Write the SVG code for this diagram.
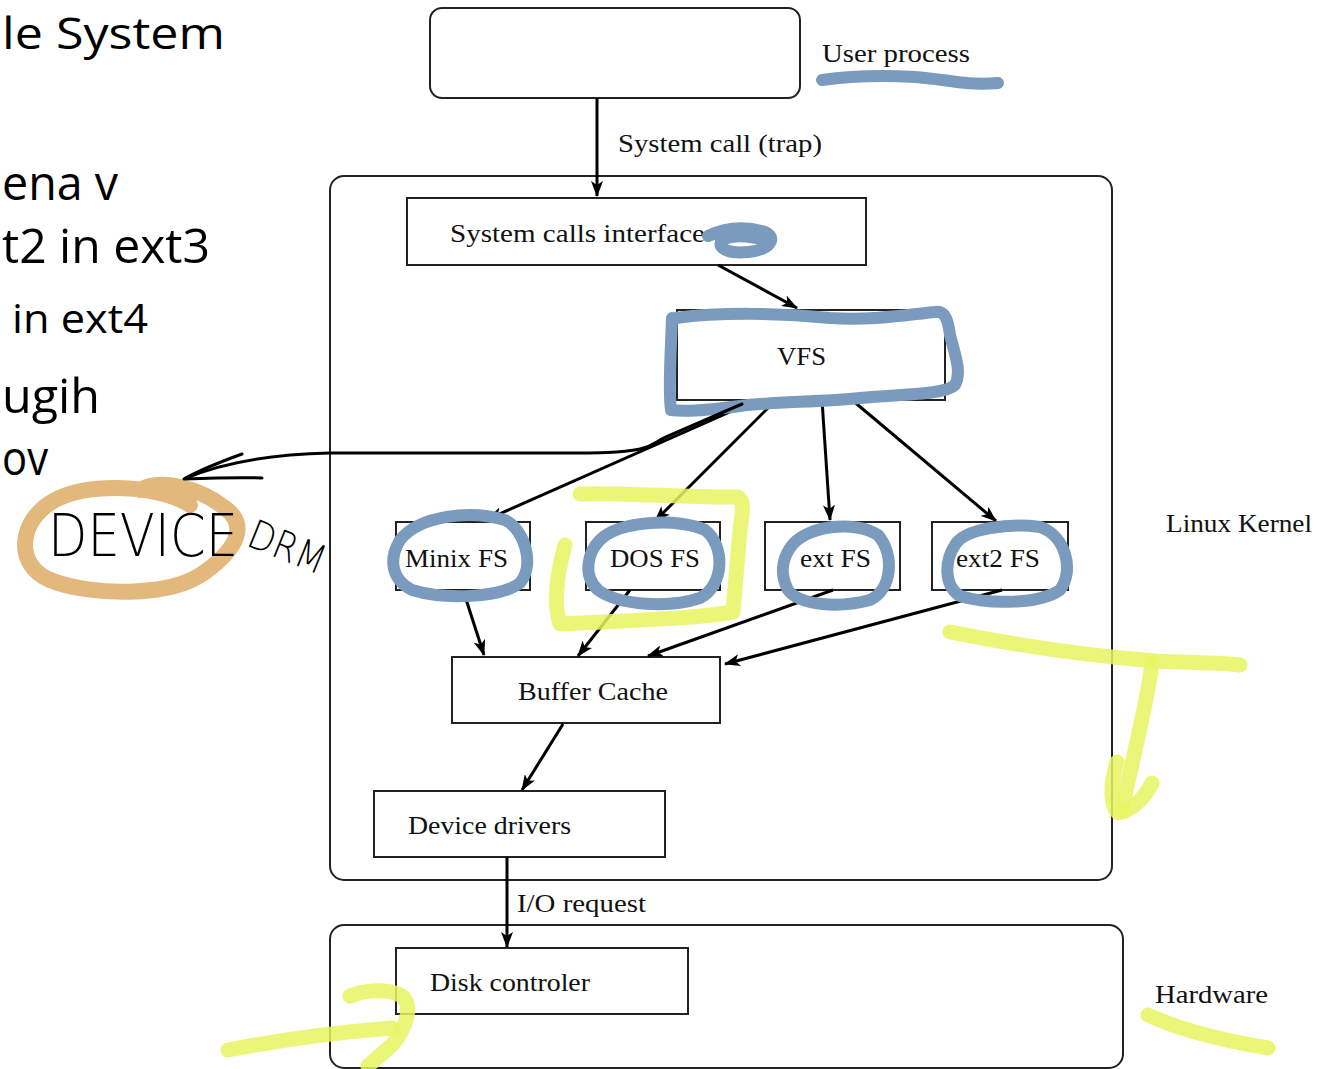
<svg xmlns="http://www.w3.org/2000/svg" width="1329" height="1069" viewBox="0 0 1329 1069">
  <style>
    .box { fill: #fff; stroke: #222; stroke-width: 2; }
    .lbl { font-family: "Liberation Serif", "Times New Roman", serif; font-size: 25px; fill: #111; }
    .slide { font-family: "Open Sans", "Liberation Sans", sans-serif; fill: #000; }
    .edge { stroke: #000; stroke-width: 3; fill: none; marker-end: url(#head); }
    .blue { fill: none; stroke: #7a9bbd; stroke-width: 12; stroke-linecap: round; stroke-linejoin: round; }
    .yellow { fill: none; stroke: #e8f562; stroke-opacity: 0.85; stroke-width: 15; stroke-linecap: round; stroke-linejoin: round; }
    .orange { fill: none; stroke: #e3b87c; stroke-width: 16; stroke-linecap: round; stroke-linejoin: round; }
    .ink { fill: none; stroke: #000; stroke-width: 3; stroke-linecap: round; stroke-linejoin: round; }
    .hand { font-family: "DejaVu Sans", sans-serif; font-weight: 300; fill: #000; }
  </style>
  <defs>
    <marker id="head" markerWidth="17" markerHeight="12" refX="15" refY="6" orient="auto" markerUnits="userSpaceOnUse">
      <path d="M0,0 L16,6 L0,12 L4,6 Z" fill="#000"/>
    </marker>
  </defs>

  <rect width="1329" height="1069" fill="#fff"/>

  <!-- slide text on the left -->
  <g id="slide-text">
    <text class="slide" x="2" y="49" font-size="44" textLength="223" lengthAdjust="spacingAndGlyphs">le System</text>
    <text class="slide" x="2" y="200" font-size="48" textLength="116" lengthAdjust="spacingAndGlyphs">ena v</text>
    <text class="slide" x="2" y="263" font-size="48" textLength="208" lengthAdjust="spacingAndGlyphs">t2 in ext3</text>
    <text class="slide" x="12" y="333" font-size="40" textLength="136" lengthAdjust="spacingAndGlyphs">in ext4</text>
    <text class="slide" x="2" y="413" font-size="48" textLength="98" lengthAdjust="spacingAndGlyphs">ugih</text>
    <text class="slide" x="2" y="475" font-size="48" textLength="46" lengthAdjust="spacingAndGlyphs">ov</text>
  </g>

  <!-- containers -->
  <g id="linux-kernel">
    <rect class="box" x="330" y="176" width="782" height="704" rx="14"/>
    <text class="lbl" x="1166" y="532" textLength="146" lengthAdjust="spacingAndGlyphs">Linux Kernel</text>
  </g>
  <g id="hardware">
    <rect class="box" x="330" y="925" width="793" height="143" rx="14"/>
    <text class="lbl" x="1155" y="1003" textLength="113" lengthAdjust="spacingAndGlyphs">Hardware</text>
  </g>

  <!-- nodes -->
  <g id="user-process">
    <rect class="box" x="430" y="8" width="370" height="90" rx="12"/>
    <text class="lbl" x="822" y="62" textLength="148" lengthAdjust="spacingAndGlyphs">User process</text>
  </g>
  <g id="syscall-interface">
    <rect class="box" x="407" y="198" width="459" height="67"/>
    <text class="lbl" x="450" y="242" textLength="255" lengthAdjust="spacingAndGlyphs">System calls interface</text>
  </g>
  <g id="vfs">
    <rect class="box" x="677" y="310" width="268" height="90"/>
    <text class="lbl" x="777" y="365" textLength="49" lengthAdjust="spacingAndGlyphs">VFS</text>
  </g>
  <g id="minix-fs">
    <rect class="box" x="396" y="522" width="134" height="68"/>
    <text class="lbl" x="405" y="567" textLength="103" lengthAdjust="spacingAndGlyphs">Minix FS</text>
  </g>
  <g id="dos-fs">
    <rect class="box" x="586" y="522" width="134" height="68"/>
    <text class="lbl" x="610" y="567" textLength="90" lengthAdjust="spacingAndGlyphs">DOS FS</text>
  </g>
  <g id="ext-fs">
    <rect class="box" x="765" y="522" width="135" height="68"/>
    <text class="lbl" x="800" y="567" textLength="71" lengthAdjust="spacingAndGlyphs">ext FS</text>
  </g>
  <g id="ext2-fs">
    <rect class="box" x="932" y="522" width="136" height="68"/>
    <text class="lbl" x="956" y="567" textLength="84" lengthAdjust="spacingAndGlyphs">ext2 FS</text>
  </g>
  <g id="buffer-cache">
    <rect class="box" x="452" y="657" width="268" height="66"/>
    <text class="lbl" x="518" y="700" textLength="150" lengthAdjust="spacingAndGlyphs">Buffer Cache</text>
  </g>
  <g id="device-drivers">
    <rect class="box" x="374" y="791" width="291" height="66"/>
    <text class="lbl" x="408" y="834" textLength="163" lengthAdjust="spacingAndGlyphs">Device drivers</text>
  </g>
  <g id="disk-controler">
    <rect class="box" x="396" y="948" width="292" height="66"/>
    <text class="lbl" x="430" y="991" textLength="160" lengthAdjust="spacingAndGlyphs">Disk controler</text>
  </g>

  <!-- connectors -->
  <g id="connectors">
    <line class="edge" x1="597" y1="98" x2="597" y2="196"/>
    <line class="edge" x1="718" y1="265" x2="797" y2="308"/>
    <line class="edge" x1="757" y1="400" x2="488" y2="519"/>
    <line class="edge" x1="776" y1="400" x2="655" y2="521"/>
    <line class="edge" x1="822" y1="400" x2="830" y2="520"/>
    <line class="edge" x1="852" y1="400" x2="996" y2="521"/>
    <line class="edge" x1="463" y1="590" x2="484" y2="655"/>
    <line class="edge" x1="630" y1="590" x2="578" y2="656"/>
    <line class="edge" x1="833" y1="590" x2="648" y2="656"/>
    <line class="edge" x1="1002" y1="590" x2="725" y2="664"/>
    <line class="edge" x1="563" y1="724" x2="522" y2="790"/>
    <line class="edge" x1="507" y1="857" x2="507" y2="947"/>
    <text class="lbl" x="618" y="152" textLength="204" lengthAdjust="spacingAndGlyphs">System call (trap)</text>
    <text class="lbl" x="517" y="912" textLength="129" lengthAdjust="spacingAndGlyphs">I/O request</text>
  </g>

  <!-- pen annotations: blue -->
  <g id="blue-marks">
    <path class="blue" d="M822,80 C850,76 880,75 915,77 C945,79 965,86 998,83"/>
    <path class="blue" d="M708,236 C725,228 745,226 765,232 C778,238 770,250 748,252 C728,254 716,248 722,240 C735,234 755,236 770,242"/>
    <path class="blue" d="M676,318 C720,312 780,313 830,318 C870,321 905,315 935,312 C945,310 948,320 950,335 C955,355 962,372 955,385 C945,395 900,394 860,398 C820,402 770,402 740,406 C710,410 685,412 671,410 C668,390 671,350 672,318"/>
    <path class="blue" d="M400,540 C420,515 470,510 505,520 C525,530 535,565 520,583 C500,598 445,600 412,590 C392,580 388,560 400,540"/>
    <path class="blue" d="M600,540 C620,520 680,518 705,530 C725,545 725,585 700,598 C670,608 620,606 598,590 C582,575 588,552 600,540"/>
    <path class="blue" d="M790,548 C805,525 855,520 878,535 C895,555 892,590 870,600 C840,608 800,606 788,590 C780,575 782,560 790,548"/>
    <path class="blue" d="M955,545 C965,528 1010,523 1040,527 C1065,535 1075,570 1060,590 C1040,604 990,605 960,596 C943,585 945,560 955,545"/>
  </g>

  <!-- pen annotations: yellow -->
  <g id="yellow-marks">
    <path class="yellow" d="M580,494 C620,492 690,498 738,497 C745,500 742,515 740,530 L733,612 C700,618 640,620 560,624 C552,600 558,570 565,545"/>
    <path class="yellow" d="M950,632 C1000,642 1080,655 1155,661 C1190,663 1220,662 1240,665"/>
    <path class="yellow" d="M1152,663 C1148,700 1132,760 1122,810"/>
    <path class="yellow" d="M1117,762 C1110,785 1110,805 1118,813 C1130,812 1145,798 1152,783"/>
    <path class="yellow" d="M228,1050 C280,1040 340,1032 392,1028"/>
    <path class="yellow" d="M350,996 C365,990 388,988 402,996 C414,1006 405,1030 392,1045 L368,1066"/>
    <path class="yellow" d="M1148,1015 C1180,1030 1220,1040 1268,1048"/>
  </g>

  <!-- pen annotations: hand-written note with arrow -->
  <g id="device-note">
    <path class="orange" d="M190,505 C160,485 90,482 55,500 C18,520 14,565 50,580 C90,596 170,598 205,572 C238,548 248,525 225,508 C200,488 160,478 140,490"/>
    <path class="ink" d="M742,404 L666,437 C655,442 654,446 640,449 C620,453 600,453 560,453 L330,453 C280,454 230,460 186,478"/>
    <path class="ink" d="M242,454 C220,462 200,470 184,479 C210,478 238,477 262,478"/>
    <text class="hand" x="48" y="556" font-size="58" textLength="190" lengthAdjust="spacingAndGlyphs">DEVICE</text>
    <text class="hand" x="245" y="545" font-size="40" textLength="80" lengthAdjust="spacingAndGlyphs" transform="rotate(22 245 545)">DRM</text>
  </g>
</svg>
